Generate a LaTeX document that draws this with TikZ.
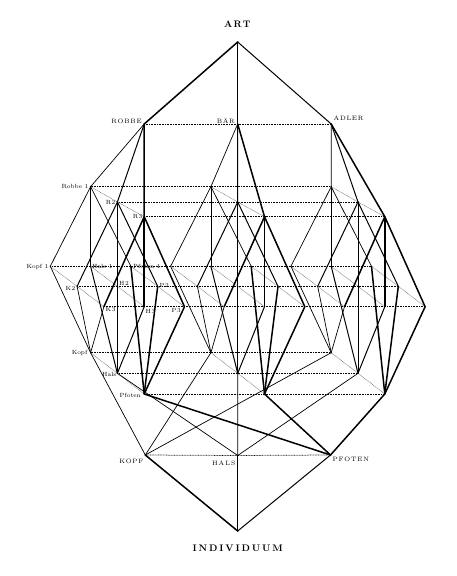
\documentclass[tikz,border=0pt]{standalone}
\usepackage{fontspec}
\def\spcaux#1{\ifx#1\relax\else#1\spcsep\expandafter\spcaux\fi}
\newcommand\myspaced[2]{\def\spcsep{\kern#1}\spcaux#2\relax\kern-#1\relax}
\begin{document}
\begin{tikzpicture}[x=1pt,y=-1pt,
  thinl/.style={line width=0.7pt},
  medl/.style={line width=1.0pt},
  thkl/.style={line width=1.5pt},
  dotl/.style={line width=0.75pt, dash pattern=on 0.8pt off 0.8pt},
  dotd/.style={line width=0.55pt, black!60, dash pattern=on 0.7pt off 0.7pt},
  lab/.style={font=\fontsize{6}{7}\selectfont, inner sep=0pt},
  capl/.style={font=\fontsize{6.3}{7}\selectfont, inner sep=0pt},
  bigl/.style={font=\fontsize{9.5}{11}\selectfont\bfseries, inner sep=0pt},
  ptdot/.style={fill=black}
]
\useasboundingbox (0,0) rectangle (457,576);
\fill[white] (0,0) rectangle (457,576);

% ---------- points ----------
\coordinate (art) at (237.7,42);
\coordinate (an-0) at (144.2,124);
\coordinate (an-1) at (237.7,124);
\coordinate (an-2) at (331.2,124);
\foreach \a in {0,1,2}{
  \foreach \i/\y in {0/186.7,1/202,2/216.7}{
    \coordinate (in-\a-\i) at ({90.6+120.3*\a+26.8*\i},\y);
    \foreach \p in {0,1,2}{
      \pgfmathsetmacro\yy{\i==0 ? 266.3 : (\i==1 ? 286.3 : 306.7)}
      \coordinate (at-\a-\i-\p) at ({50.3+120.3*\a+26.8*\i+40.3*\p},\yy);
    }
  }
  \foreach \p/\y in {0/352.7,1/373.3,2/394}{
    \coordinate (lo-\a-\p) at ({90.6+120.3*\a+26.8*\p},\y);
  }
}
\coordinate (pt-0) at (145.3,455);
\coordinate (pt-1) at (237.7,455.5);
\coordinate (pt-2) at (330.5,455);
\coordinate (ind) at (237.7,531);

% ---------- dotted connections ----------
\draw[dotl] (an-0) -- (an-1) -- (an-2);
\foreach \i in {0,1,2}{
  \draw[dotl] (in-0-\i) -- (in-1-\i) -- (in-2-\i);
  \draw[dotl] (at-0-\i-0) -- (at-2-\i-2);
}
\foreach \p in {0,1,2}{
  \draw[dotl] (lo-0-\p) -- (lo-1-\p) -- (lo-2-\p);
}
\foreach \a in {0,1,2}{
  \draw[dotd] (in-\a-0) -- (in-\a-1) -- (in-\a-2);
  \draw[dotd] (lo-\a-0) -- (lo-\a-1) -- (lo-\a-2);
  \foreach \p in {0,1,2}{
    \draw[dotd] (at-\a-0-\p) -- (at-\a-1-\p) -- (at-\a-2-\p);
  }
}
\draw[dotl] (pt-0) -- (pt-1) -- (pt-2);

% ---------- solid connections ----------
\draw[thkl] (art) -- (an-0);
\draw[thkl] (art) -- (an-1);
\draw[medl] (art) -- (an-2);
\foreach \a in {0,1,2}{
  \draw[thinl] (an-\a) -- (in-\a-0);
  \draw[medl] (an-\a) -- (in-\a-1);
  \draw[thkl] (an-\a) -- (in-\a-2);
  \foreach \p in {0,1,2}{
    \draw[thinl] (in-\a-0) -- (at-\a-0-\p);
    \draw[medl] (in-\a-1) -- (at-\a-1-\p);
    \draw[thkl] (in-\a-2) -- (at-\a-2-\p);
  }
  \foreach \i in {0,1,2}{
    \draw[thinl] (at-\a-\i-0) -- (lo-\a-0);
    \draw[medl] (at-\a-\i-1) -- (lo-\a-1);
    \draw[thkl] (at-\a-\i-2) -- (lo-\a-2);
  }
  \draw[thinl] (lo-\a-0) -- (pt-0);
  \draw[thinl] (lo-\a-1) -- (pt-1);
  \draw[thkl] (lo-\a-2) -- (pt-2);
}
\draw[thkl] (pt-0) -- (ind);
\draw[medl] (pt-1) -- (ind);
\draw[medl] (pt-2) -- (ind);

% ---------- node dots ----------
\foreach \n in {art,an-0,an-1,an-2,pt-0,pt-1,pt-2,ind}{\fill[ptdot] (\n) circle (0.9pt);}
\foreach \a in {0,1,2}{\foreach \i in {0,1,2}{
  \fill[ptdot] (in-\a-\i) circle (0.8pt);
  \fill[ptdot] (lo-\a-\i) circle (0.8pt);
  \foreach \p in {0,1,2}{\fill[ptdot] (at-\a-\i-\p) circle (0.7pt);}
}}

% ---------- labels ----------
\node[bigl] (tART) at (237.3,24.5) {\myspaced{1.2pt}{ART}};
\node[bigl] (tIND) at (237.7,548) {\myspaced{1.9pt}{INDIVIDUUM}};
\node[capl,anchor=east] (lR) at (142,121) {\myspaced{0.8pt}{ROBBE}};
\node[capl,anchor=east] (lB) at (235,120.5) {\myspaced{0.7pt}{BÄR}};
\node[capl,anchor=west] (lA) at (333.5,118.5) {\myspaced{0.7pt}{ADLER}};
\node[lab,anchor=east] (lR1) at (88.5,186) {Robbe 1};
\node[lab,anchor=east] (lR2) at (115.5,202.5) {R\kern.5pt2};
\node[lab,anchor=east] (lR3) at (142.5,217) {R\kern.5pt3};
\node[lab,anchor=east] (lK1) at (48.5,266.5) {Kopf 1};
\node[lab,anchor=west] (lH1) at (92,266) {Hals 1};
\node[lab,anchor=west] (lP1) at (133,266.5) {Pfoten 1};
\node[lab,anchor=east] (lK2) at (75.5,288.5) {K\kern.5pt2};
\node[lab,anchor=west] (lH2) at (119,283.5) {H\kern.5pt2};
\node[lab,anchor=west] (lP2) at (159.5,285.5) {P\kern.5pt2};
\node[lab,anchor=west] (lK3) at (105.5,310) {K\kern.5pt3};
\node[lab,anchor=west] (lH3) at (145.5,312) {H\kern.5pt3};
\node[lab,anchor=east] (lP3) at (181,311) {P\kern.5pt3};
\node[lab,anchor=east] (lKo) at (87.5,353.3) {Kopf};
\node[lab,anchor=east] (lHa) at (116.5,374) {Hals};
\node[lab,anchor=east] (lPf) at (141,395.5) {Pfoten};
\node[capl,anchor=east] (lKOPF) at (143.5,461) {\myspaced{0.7pt}{KOPF}};
\node[capl,anchor=east] (lHALS) at (235.5,463) {\myspaced{1pt}{HALS}};
\node[capl,anchor=west] (lPFOTEN) at (332.5,459.3) {\myspaced{0.8pt}{PFOTEN}};
\end{tikzpicture}
\end{document}
